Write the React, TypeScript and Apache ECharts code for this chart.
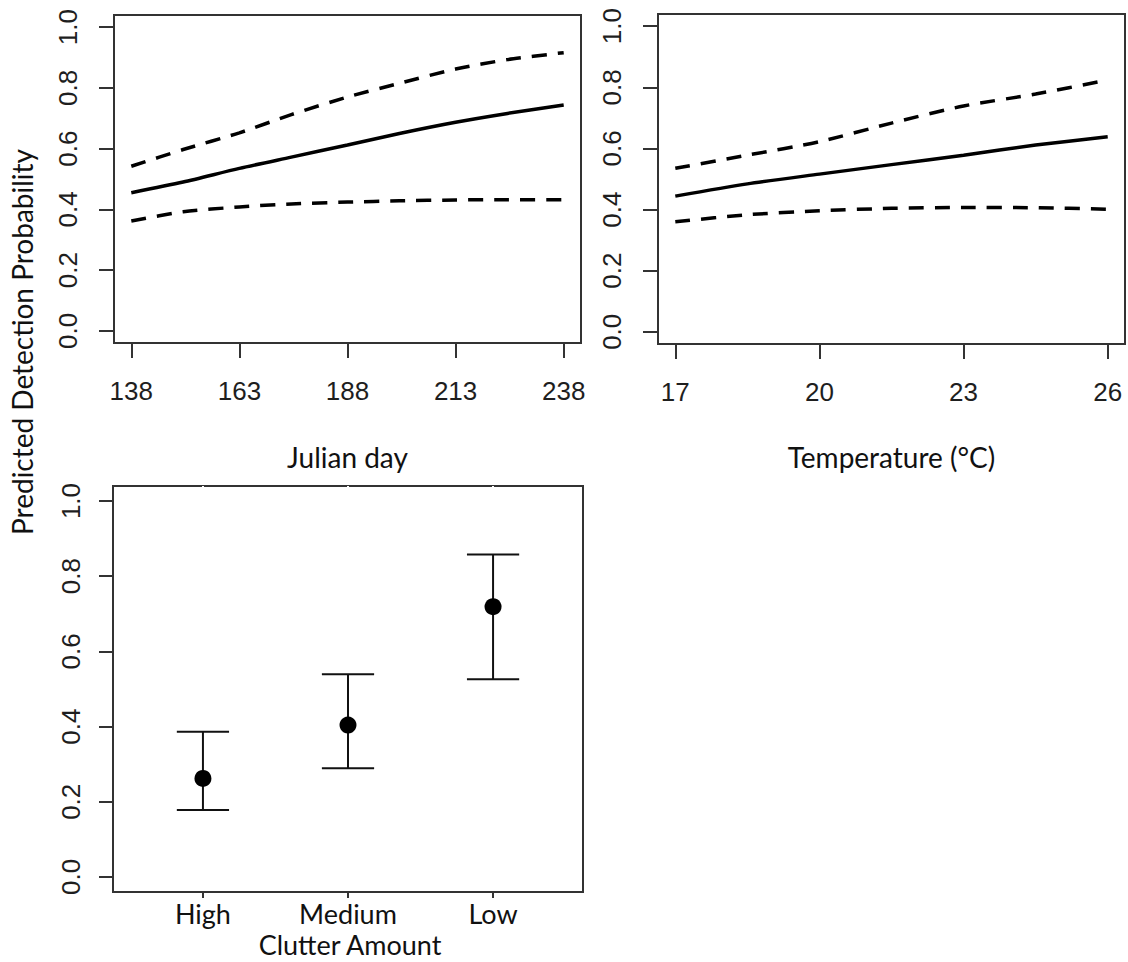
import React, { useEffect, useRef } from "react";
import * as echarts from "echarts";

// Julian day effect: fitted detection probability with 95% bounds
const julianDays = [138, 150, 163, 175, 188, 200, 213, 225, 238];
const julianFit = [0.455, 0.49, 0.535, 0.572, 0.612, 0.65, 0.687, 0.716, 0.744];
const julianUpper = [0.542, 0.597, 0.652, 0.712, 0.77, 0.815, 0.862, 0.893, 0.916];
const julianLower = [0.362, 0.392, 0.408, 0.418, 0.424, 0.428, 0.431, 0.432, 0.432];
const julianTicks = [138, 163, 188, 213, 238];

// Temperature effect
const temps = [17, 18.5, 20, 21.5, 23, 24.5, 26];
const tempFit = [0.444, 0.484, 0.516, 0.547, 0.578, 0.611, 0.638];
const tempUpper = [0.535, 0.578, 0.622, 0.683, 0.739, 0.778, 0.824];
const tempLower = [0.36, 0.383, 0.396, 0.404, 0.407, 0.406, 0.401];
const tempTicks = [17, 20, 23, 26];

// Clutter amount effect (point estimate with interval)
const clutterLevels = ["High", "Medium", "Low"];
const clutterEst = [0.262, 0.404, 0.719];
const clutterLower = [0.178, 0.289, 0.526];
const clutterUpper = [0.386, 0.539, 0.858];
const clutterTicks = [1, 2, 3];

const probTicks = [0, 0.2, 0.4, 0.6, 0.8, 1.0];

const BOX = "#333";
const TICK_FONT = "Liberation Sans";
const TEXT_FONT = "Lato";
const CAP_WIDTH = 0.36;

export default function App() {
  const ref = useRef<HTMLDivElement>(null);

  useEffect(() => {
    if (!ref.current) return;
    const chart = echarts.init(ref.current, undefined, { renderer: "svg" });

    const gridBox = {
      show: true,
      borderColor: BOX,
      borderWidth: 2,
      backgroundColor: "transparent",
    };
    const tickStyle = { color: BOX, width: 2 };
    const tickLabel = {
      fontFamily: TICK_FONT,
      fontSize: 26,
      color: "#1e1e1e",
    };

    const xValueAxis = (gridIndex: number, min: number, max: number, ticks: number[]) => ({
      gridIndex,
      type: "value",
      min,
      max,
      axisLine: { show: false, onZero: false },
      splitLine: { show: false },
      axisTick: { show: true, customValues: ticks, length: 15, lineStyle: tickStyle },
      axisLabel: { ...tickLabel, customValues: ticks, margin: 35 },
    });

    const yProbAxis = (gridIndex: number, margin: number, tickLen: number) => ({
      gridIndex,
      type: "value",
      min: -0.04,
      max: 1.04,
      axisLine: { show: false, onZero: false },
      splitLine: { show: false },
      axisTick: { show: true, customValues: probTicks, length: tickLen, lineStyle: tickStyle },
      axisLabel: {
        ...tickLabel,
        customValues: probTicks,
        rotate: 90,
        margin,
        formatter: (v: number) => v.toFixed(1),
      },
    });

    const curve = (
      xs: number[],
      ys: number[],
      axis: number,
      dashed: boolean
    ) => ({
      type: "line",
      xAxisIndex: axis,
      yAxisIndex: axis,
      data: xs.map((x, i) => [x, ys[i]]),
      showSymbol: false,
      smooth: 0.25,
      silent: true,
      lineStyle: {
        color: "#000",
        width: 3.5,
        type: dashed ? [15, 11] : "solid",
      },
    });

    const option = {
      animation: false,
      backgroundColor: "#fff",
      grid: [
        { left: 114, top: 15, width: 467, height: 328, ...gridBox },
        { left: 658, top: 14, width: 467, height: 330, ...gridBox },
        { left: 113, top: 486, width: 470, height: 406, ...gridBox },
      ],
      xAxis: [
        xValueAxis(0, 134, 242, julianTicks),
        xValueAxis(1, 16.64, 26.36, tempTicks),
        {
          gridIndex: 2,
          type: "value",
          min: 0.38,
          max: 3.62,
          axisLine: { show: false, onZero: false },
          splitLine: { show: false },
          axisTick: { show: true, customValues: clutterTicks, length: 6, lineStyle: tickStyle },
          axisLabel: {
            customValues: clutterTicks,
            margin: 8,
            fontFamily: TEXT_FONT,
            fontSize: 27,
            color: "#111",
            formatter: (v: number) => clutterLevels[Math.round(v) - 1] ?? "",
          },
        },
        {
          // small notches in the top frame line of the clutter panel
          gridIndex: 2,
          type: "value",
          position: "top",
          min: 0.38,
          max: 3.62,
          axisLine: { show: false, onZero: false },
          splitLine: { show: false },
          axisTick: {
            show: true,
            inside: true,
            customValues: clutterTicks,
            length: 3,
            lineStyle: { color: "#fff", width: 2 },
          },
          axisLabel: { show: false },
        },
      ],
      yAxis: [yProbAxis(0, 33, 15), yProbAxis(1, 33, 15), yProbAxis(2, 29, 14)],
      series: [
        curve(julianDays, julianFit, 0, false),
        curve(julianDays, julianUpper, 0, true),
        curve(julianDays, julianLower, 0, true),
        curve(temps, tempFit, 1, false),
        curve(temps, tempUpper, 1, true),
        curve(temps, tempLower, 1, true),
        {
          type: "custom",
          xAxisIndex: 2,
          yAxisIndex: 2,
          silent: true,
          data: clutterLevels.map((_, i) => [i + 1, clutterLower[i], clutterUpper[i]]),
          encode: { x: 0, y: [1, 2] },
          renderItem: (_params: any, api: any) => {
            const x = api.value(0);
            const lo = api.coord([x, api.value(1)]);
            const hi = api.coord([x, api.value(2)]);
            const half = api.size([CAP_WIDTH, 0])[0] / 2;
            const style = { stroke: "#111", lineWidth: 2 };
            return {
              type: "group",
              children: [
                { type: "line", shape: { x1: lo[0], y1: lo[1], x2: hi[0], y2: hi[1] }, style },
                { type: "line", shape: { x1: hi[0] - half, y1: hi[1], x2: hi[0] + half, y2: hi[1] }, style },
                { type: "line", shape: { x1: lo[0] - half, y1: lo[1], x2: lo[0] + half, y2: lo[1] }, style },
              ],
            };
          },
        },
        {
          type: "scatter",
          xAxisIndex: 2,
          yAxisIndex: 2,
          silent: true,
          symbol: "circle",
          symbolSize: 17,
          itemStyle: { color: "#000", opacity: 1 },
          data: clutterLevels.map((_, i) => [i + 1, clutterEst[i]]),
          z: 3,
        },
      ],
      graphic: [
        {
          type: "text",
          x: 347.5,
          y: 457,
          style: {
            text: "Julian day",
            fontFamily: TEXT_FONT,
            fontSize: 28,
            fill: "#111",
            align: "center",
            verticalAlign: "middle",
          },
        },
        {
          type: "text",
          x: 891.5,
          y: 457,
          style: {
            text: "Temperature (°C)",
            fontFamily: TEXT_FONT,
            fontSize: 28,
            fill: "#111",
            align: "center",
            verticalAlign: "middle",
          },
        },
        {
          type: "text",
          x: 350,
          y: 944,
          style: {
            text: "Clutter Amount",
            fontFamily: TEXT_FONT,
            fontSize: 27,
            fill: "#111",
            align: "center",
            verticalAlign: "middle",
          },
        },
        {
          type: "text",
          x: 22,
          y: 342,
          rotation: Math.PI / 2,
          style: {
            text: "Predicted Detection Probability",
            fontFamily: TEXT_FONT,
            fontSize: 28,
            fill: "#111",
            align: "center",
            verticalAlign: "middle",
          },
        },
      ],
    };

    chart.setOption(option as any);
    return () => chart.dispose();
  }, []);

  return (
    <div
      ref={ref}
      style={{ position: "absolute", left: 0, top: 0, width: 1128, height: 962, background: "#fff" }}
    />
  );
}
